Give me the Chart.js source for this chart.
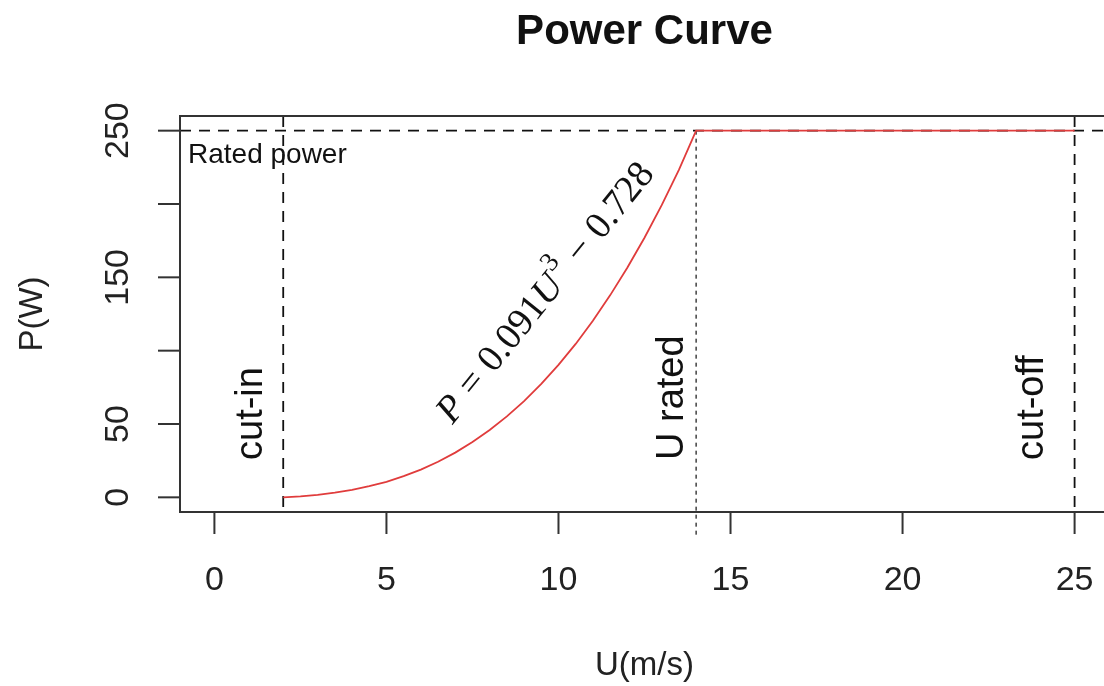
<!DOCTYPE html>
<html>
<head>
<meta charset="utf-8">
<title>Power Curve</title>
<script src="https://cdn.jsdelivr.net/npm/chart.js@4"></script>
<style>
  html, body { margin: 0; padding: 0; background: #fff; overflow: hidden; }
  #wrap { width: 1104px; height: 686px; overflow: hidden; }
</style>
</head>
<body>
<div id="wrap"><canvas id="chart-power" width="1120" height="686"></canvas></div>
<script>
// --- data ---
const titleText = 'Power Curve';
const xAxisTitle = 'U(m/s)';
const yAxisTitle = 'P(W)';
const xTicks = [0, 5, 10, 15, 20, 25];
const yTicks = [0, 50, 100, 150, 200, 250];
const yTickLabels = ['0', '50', '', '150', '', '250'];

// wind speed (m/s) and power (W) along the red curve
const windSpeed = [2, 2.5, 3, 3.5, 4, 4.5, 5, 5.5, 6, 6.5, 7, 7.5, 8, 8.5, 9, 9.5, 10, 10.5, 11, 11.5, 12, 12.5, 13, 13.5, 14, 25];
const powerW    = [0, 0.7, 1.7, 3.2, 5.1, 7.6, 10.6, 14.4, 18.9, 24.3, 30.5, 37.7, 45.9, 55.2, 65.6, 77.3, 90.3, 104.6, 120.4, 137.7, 156.5, 177.0, 199.2, 223.2, 250, 250];

// reference lines
const cutIn = 2;
const uRated = 14;
const cutOff = 25;
const ratedPower = 250;

const SANS = '"Liberation Sans", Arial, sans-serif';
const SERIF = '"Liberation Serif", "DejaVu Serif", serif';

function line(ctx, x1, y1, x2, y2) {
    ctx.beginPath();
    ctx.moveTo(x1, y1);
    ctx.lineTo(x2, y2);
    ctx.stroke();
}

// rotated text, reading bottom to top, baseline at bx
function vText(ctx, str, bx, by, font, align) {
    ctx.save();
    ctx.translate(bx, by);
    ctx.rotate(-Math.PI / 2);
    ctx.font = font;
    ctx.textAlign = align;
    ctx.textBaseline = 'alphabetic';
    ctx.fillText(str, 0, 0);
    ctx.restore();
}

// P = 0.091U^3 - 0.728, drawn along the curve
function drawEquation(ctx, cx, cy, angle) {
    const size = 38;
    const gap = size * 0.28;
    const parts = [
        { t: 'P', f: `italic ${size}px ${SERIF}`, dy: 0, pad: gap },
        { t: '=', f: `${size}px ${SERIF}`, dy: 0, pad: gap },
        { t: '0.091', f: `${size}px ${SERIF}`, dy: 0, pad: 0 },
        { t: 'U', f: `italic ${size}px ${SERIF}`, dy: 0, pad: 2 },
        { t: '3', f: `${Math.round(size * 0.72)}px ${SERIF}`, dy: -size * 0.42, pad: gap },
        { t: '\u2212', f: `${size}px ${SERIF}`, dy: 0, pad: gap },
        { t: '0.728', f: `${size}px ${SERIF}`, dy: 0, pad: 0 }
    ];
    let total = 0;
    parts.forEach(p => { ctx.font = p.f; p.w = ctx.measureText(p.t).width; total += p.w + p.pad; });
    ctx.save();
    ctx.translate(cx, cy);
    ctx.rotate(angle);
    ctx.textBaseline = 'middle';
    ctx.textAlign = 'left';
    ctx.fillStyle = '#111';
    let px = -total / 2;
    parts.forEach(p => {
        ctx.font = p.f;
        ctx.fillText(p.t, px, p.dy + 2);
        px += p.w + p.pad;
    });
    ctx.restore();
}

const rPlot = {
    id: 'rPlot',
    beforeDatasetsDraw(chart) {
        const { ctx, chartArea: a, scales: { x, y } } = chart;
        const X = v => x.getPixelForValue(v);
        const Y = v => y.getPixelForValue(v);

        // abline style dashed lines, clipped to the box
        ctx.save();
        ctx.beginPath();
        ctx.rect(a.left, a.top, a.right - a.left, a.bottom - a.top);
        ctx.clip();
        ctx.strokeStyle = '#111';
        ctx.lineWidth = 1.8;
        ctx.setLineDash([11, 8]);
        line(ctx, a.left, Y(ratedPower), a.right, Y(ratedPower));
        line(ctx, X(cutIn), a.top, X(cutIn), a.bottom);
        line(ctx, X(cutOff), a.top, X(cutOff), a.bottom);
        ctx.restore();

        // dotted line at rated speed, runs a bit below the box
        ctx.save();
        ctx.strokeStyle = '#111';
        ctx.lineWidth = 1.2;
        ctx.setLineDash([4, 4]);
        line(ctx, X(uRated), Y(ratedPower), X(uRated), Y(-27));
        ctx.restore();
    },
    afterDraw(chart) {
        const { ctx, chartArea: a, scales: { x, y } } = chart;
        const X = v => x.getPixelForValue(v);
        const Y = v => y.getPixelForValue(v);

        ctx.save();
        // box
        ctx.strokeStyle = '#333';
        ctx.lineWidth = 2;
        ctx.setLineDash([]);
        ctx.strokeRect(a.left, a.top, a.right - a.left, a.bottom - a.top);

        // x axis ticks + labels
        ctx.fillStyle = '#222';
        ctx.font = `34px ${SANS}`;
        ctx.textAlign = 'center';
        ctx.textBaseline = 'alphabetic';
        xTicks.forEach(v => {
            line(ctx, X(v), a.bottom, X(v), a.bottom + 22);
            ctx.fillText(String(v), X(v), 590);
        });

        // y axis ticks + rotated labels
        yTicks.forEach((v, i) => {
            line(ctx, a.left, Y(v), a.left - 22, Y(v));
            if (yTickLabels[i]) vText(ctx, yTickLabels[i], 128, Y(v), `34px ${SANS}`, 'center');
        });

        // axis titles
        ctx.font = `33px ${SANS}`;
        ctx.fillText(xAxisTitle, (a.left + a.right) / 2, 675);
        vText(ctx, yAxisTitle, 42, (a.top + a.bottom) / 2, `33px ${SANS}`, 'center');

        // main title
        ctx.fillStyle = '#111';
        ctx.font = `bold 42px ${SANS}`;
        ctx.fillText(titleText, (a.left + a.right) / 2, 44);

        // annotations
        ctx.fillStyle = '#111';
        ctx.font = `28px ${SANS}`;
        ctx.textAlign = 'left';
        ctx.fillText('Rated power', a.left + 8, 163);

        const annY = 460;
        vText(ctx, 'cut-in', 262, annY, `38px ${SANS}`, 'left');
        vText(ctx, 'U rated', 683, annY, `38px ${SANS}`, 'left');
        vText(ctx, 'cut-off', 1043, annY, `38px ${SANS}`, 'left');

        drawEquation(ctx, X(9.6), Y(140), -51 * Math.PI / 180);
        ctx.restore();
    }
};

const ctxPower = document.getElementById('chart-power');
new Chart(ctxPower, {
    type: 'scatter',
    data: {
        datasets: [{
            data: windSpeed.map((u, i) => ({ x: u, y: powerW[i] })),
            showLine: true,
            borderColor: '#e03c3c',
            borderWidth: 1.8,
            pointRadius: 0,
            tension: 0,
            fill: false
        }]
    },
    options: {
        responsive: false,
        animation: false,
        events: [],
        layout: { padding: { left: 180, right: 11, top: 116, bottom: 174 } },
        plugins: { legend: { display: false }, tooltip: { enabled: false }, title: { display: false } },
        scales: {
            x: { type: 'linear', min: -1, max: 26, display: false },
            y: { type: 'linear', min: -10, max: 260, display: false }
        }
    },
    plugins: [rPlot]
});
</script>
</body>
</html>
